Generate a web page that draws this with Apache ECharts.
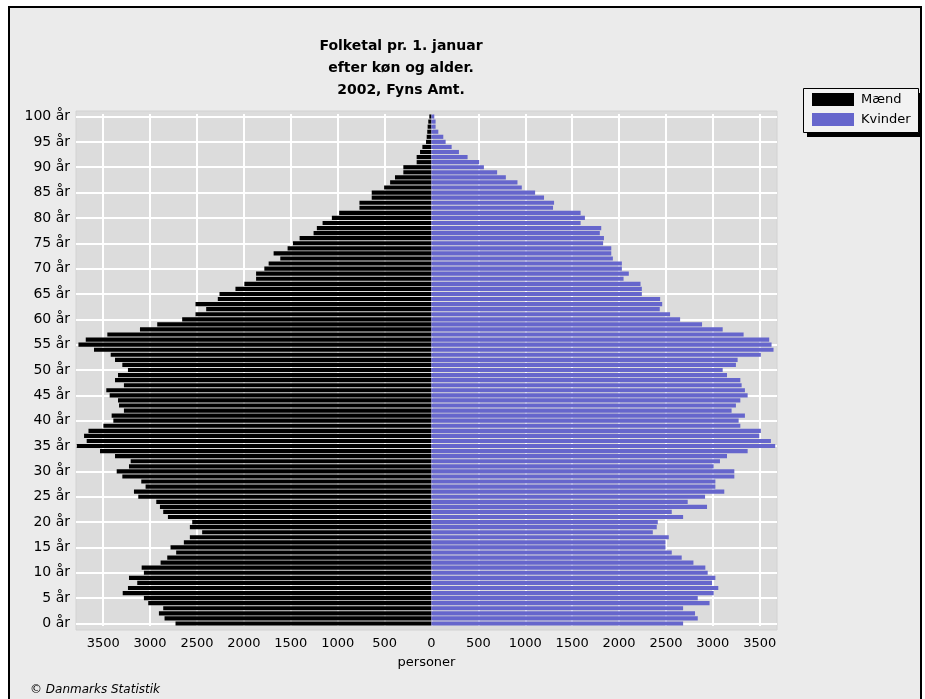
<!DOCTYPE html>
<html>
<head>
<meta charset="utf-8">
<script src="https://cdn.jsdelivr.net/npm/echarts@6/dist/echarts.min.js"></script>
<style>
html,body{margin:0;padding:0;background:#ffffff;}
#chart{width:925px;height:699px;}
</style>
</head>
<body>
<div id="chart"></div>
<script>
// Ages 0..100 (index = age)
var ageLabels = [];
for (var a = 0; a <= 100; a++) { ageLabels.push(a + ' år'); }

var maend = [
2729,2846,2906,2860,3020,3066,3292,3236,3137,3225,
3066,3090,2888,2817,2722,2782,2640,2576,2445,2576,
2551,2810,2860,2895,2934,3126,3172,3048,3094,3296,
3356,3225,3207,3374,3534,3782,3676,3704,3657,3498,
3392,3410,3279,3331,3342,3431,3467,3279,3374,3342,
3236,3296,3374,3420,3598,3764,3686,3456,3108,2924,
2658,2516,2402,2516,2278,2260,2090,1995,1870,1870,
1782,1736,1612,1683,1534,1477,1406,1257,1222,1161,
1062,984,768,768,637,637,505,441,389,300,
300,158,158,122,97,58,51,45,41,34,
23];

var kvinder = [
2683,2839,2810,2683,2965,2839,3009,3058,2991,3027,
2945,2920,2793,2668,2562,2495,2495,2530,2360,2402,
2413,2683,2562,2938,2732,2917,3122,3027,3027,3229,
3229,3009,3076,3151,3371,3665,3619,3495,3512,3293,
3275,3342,3200,3246,3293,3371,3342,3307,3293,3151,
3105,3246,3264,3512,3647,3626,3601,3328,3105,2885,
2651,2544,2434,2460,2438,2243,2243,2229,2048,2104,
2030,2030,1934,1917,1917,1830,1839,1795,1810,1590,
1636,1590,1296,1307,1200,1105,963,917,793,700,
559,509,385,293,215,151,126,73,44,44,
30];

var xTicks = [-3500,-3000,-2500,-2000,-1500,-1000,-500,0,500,1000,1500,2000,2500,3000,3500];

var titleLines = ['Folketal pr. 1. januar', 'efter køn og alder.', '2002, Fyns Amt.'];
var seriesNames = ['Mænd', 'Kvinder'];
var xAxisName = 'personer';
var sourceText = '© Danmarks Statistik';

var maendNeg = maend.map(function (v) { return -v; });

var chart = echarts.init(document.getElementById('chart'), null, {renderer: 'canvas'});
var FONT = 'DejaVu Sans';

chart.setOption({
  animation: false,
  backgroundColor: '#ffffff',
  graphic: [
    {type: 'rect', z: -10, silent: true,
     shape: {x: 9, y: 7, width: 912, height: 700},
     style: {fill: '#ebebeb', stroke: '#000000', lineWidth: 2}},
    {type: 'rect', z: -9, silent: true,
     shape: {x: 76, y: 111, width: 701, height: 519},
     style: {fill: '#dcdcdc', stroke: '#d2d2d2', lineWidth: 1}},
    {type: 'rect', z: -8, silent: true,
     shape: {x: 807, y: 93, width: 115, height: 44},
     style: {fill: '#000000'}},
    {type: 'rect', z: -7, silent: true,
     shape: {x: 803.5, y: 88.5, width: 115, height: 44},
     style: {fill: '#f2f2f2', stroke: '#000000', lineWidth: 1}},
    {type: 'text', left: 30, top: 684,
     style: {text: sourceText, font: 'italic 12px "DejaVu Sans"', fill: '#000000'}}
  ],
  title: {
    text: titleLines.join('\n'),
    left: 396, top: 31, textAlign: 'center',
    textStyle: {fontFamily: FONT, fontWeight: 'bold', fontSize: 14, lineHeight: 21.7, color: '#000000'}
  },
  legend: {
    orient: 'vertical',
    left: 804, top: 89,
    data: seriesNames,
    itemWidth: 42, itemHeight: 13, itemGap: 7,
    icon: 'rect',
    padding: [4, 6, 4, 8],
    textStyle: {fontFamily: FONT, fontSize: 13, color: '#000000', padding: [0, 0, 0, 2]}
  },
  grid: {
    left: 76, width: 701, top: 114, height: 512, show: false
  },
  xAxis: {
    type: 'value', min: -3790, max: 3684,
    name: xAxisName, nameLocation: 'middle', nameGap: 30,
    nameTextStyle: {fontFamily: FONT, fontSize: 13, color: '#000000'},
    axisLine: {show: false},
    axisTick: {show: false, customValues: xTicks},
    axisLabel: {customValues: xTicks, fontFamily: FONT, fontSize: 13, color: '#000000', margin: 11,
      formatter: function (v) { return String(Math.abs(v)); }},
    splitLine: {show: true, lineStyle: {color: '#ffffff', width: 2}}
  },
  yAxis: {
    type: 'category', data: ageLabels,
    axisLine: {show: false},
    axisTick: {show: false, interval: 4, alignWithLabel: true},
    axisLabel: {interval: 4, fontFamily: FONT, fontSize: 14, color: '#000000', margin: 6},
    splitLine: {show: true, interval: 4, alignWithLabel: true, lineStyle: {color: '#ffffff', width: 2}}
  },
  series: [
    {name: seriesNames[0], type: 'bar', stack: 'p', data: maendNeg,
     barCategoryGap: '18%', itemStyle: {color: '#000000'}},
    {name: seriesNames[1], type: 'bar', stack: 'p', data: kvinder,
     barCategoryGap: '18%', itemStyle: {color: '#6666cc'}}
  ]
});
</script>
</body>
</html>
